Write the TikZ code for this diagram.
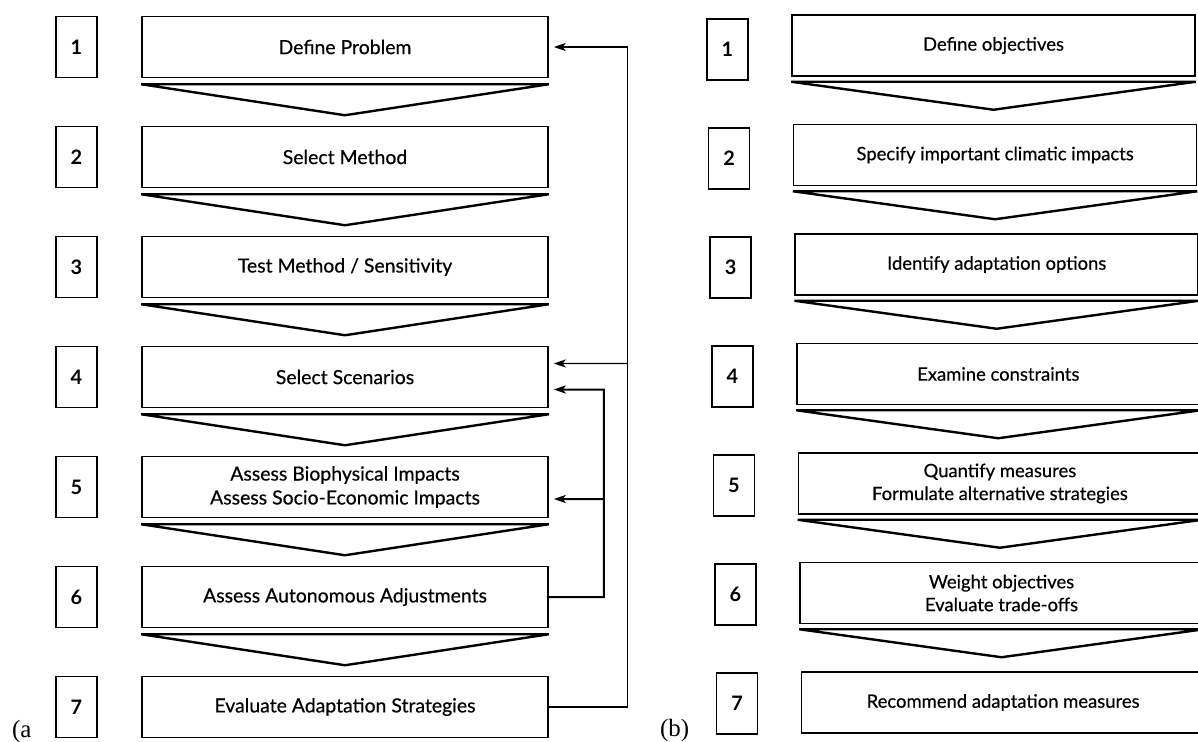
\documentclass[tikz,border=0pt]{standalone}
\usepackage{fontspec}
\setmainfont{Lato}
\newfontfamily\boxfont[FakeBold=0.5]{Lato}
\newfontfamily\capfont{Liberation Serif}
\usetikzlibrary{arrows.meta,calc}
\tikzset{
  stepbox/.style={draw, line width=1.5bp, minimum height=61bp, inner sep=0pt, align=center},
  leftbox/.style={stepbox, minimum width=406bp, font=\boxfont\fontsize{19.5}{24}\selectfont},
  rightbox/.style={stepbox, minimum width=403bp, font=\boxfont\fontsize{18.5}{23}\selectfont},
  numbox/.style={draw, line width=1.5bp, minimum width=41bp, minimum height=61bp,
    inner sep=0pt, font=\bfseries\fontsize{20}{22}\selectfont},
  chev/.style={line width=2.4bp, line join=bevel},
  fbtip/.style={-{Stealth[length=12bp,width=8bp,inset=3bp]}},
  fbthin/.style={line width=1.3bp},
  fbthick/.style={line width=2bp},
  panellabel/.style={anchor=base west, inner sep=0pt, font=\capfont\fontsize{25}{25}\selectfont}
}
\begin{document}
\begin{tikzpicture}[x=1bp,y=-1bp]
\useasboundingbox (0,0) rectangle (1198,742);

% ---------- panel (a): impact assessment steps ----------
\foreach \i in {1,...,7}
  \node[numbox] (na\i) at (76.5, {47+110*(\i-1)}) {\i};

\node[leftbox] (a1) at (345, 47)  {Define Problem};
\node[leftbox] (a2) at (345, 157) {Select Method};
\node[leftbox] (a3) at (345, 267) {Test Method / Sensitivity};
\node[leftbox] (a4) at (345, 377) {Select Scenarios};
\node[leftbox] (a5) at (345, 487) {Assess Biophysical Impacts\\Assess Socio-Economic Impacts};
\node[leftbox] (a6) at (345, 597) {Assess Autonomous Adjustments};
\node[leftbox] (a7) at (345, 707) {Evaluate Adaptation Strategies};

\foreach \i in {1,...,6}
  \draw[chev] ([yshift=-6bp]a\i.south west) -- ([yshift=-6bp]a\i.south east)
    -- ([yshift=-37bp]a\i.south) -- cycle;

% feedback loops on the right of panel (a)
\draw[fbthin, fbtip] (a7.east) -| ($(a1.east)+(79,0)$) -- ([xshift=5bp]a1.east);
\coordinate (j4) at ($(a4.east)+(79,-13.5)$);
\draw[fbthin, fbtip] (j4) -- ([xshift=5bp,yshift=13.5bp]a4.east);
\draw[fbthick, fbtip] (a6.east) -| ($(a4.east)+(55,12.5)$) -- ([xshift=5bp,yshift=-12.5bp]a4.east);
\coordinate (j5) at ($(a5.east)+(55,12)$);
\draw[fbthick, fbtip] (j5) -- ([xshift=5bp,yshift=-12bp]a5.east);

\node[panellabel] (la) at (12,737) {(a};

% ---------- panel (b): adaptation assessment steps ----------
\foreach \i in {1,...,7}
  \node[numbox] (nb\i) at ({727.5+1.6*(\i-1)}, {49.5+109*(\i-1)}) {\i};

\node[rightbox] (b1) at (993.5, 45.5)  {Define objectives};
\node[rightbox] (b2) at (995.1, 155)   {Specify important climatic impacts};
\node[rightbox] (b3) at (996.7, 264.5) {Identify adaptation options};
\node[rightbox] (b4) at (998.3, 374)   {Examine constraints};
\node[rightbox] (b5) at (999.9, 483.5) {Quantify measures\\Formulate alternative strategies};
\node[rightbox] (b6) at (1001.5, 593)  {Weight objectives\\Evaluate trade-offs};
\node[rightbox] (b7) at (1003.1, 702.5) {Recommend adaptation measures};

\foreach \i in {1,...,6}
  \draw[chev] ([yshift=-5bp]b\i.south west) -- ([yshift=-5bp]b\i.south east)
    -- ([yshift=-33bp]b\i.south) -- cycle;

\node[panellabel] (lb) at (660,736) {(b)};
\end{tikzpicture}
\end{document}
